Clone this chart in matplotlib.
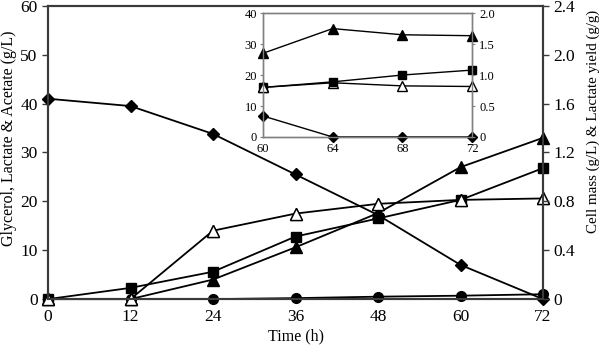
import matplotlib
matplotlib.use("Agg")
import matplotlib.pyplot as plt

plt.rcParams['font.family'] = ['Liberation Serif', 'DejaVu Serif']

time = [0, 12, 24, 36, 48, 60, 72]
glycerol = [41, 39.5, 33.8, 25.5, 17.2, 7.0, 0.0]
lactate = [0, 0, 4.0, 10.6, 17.6, 27.0, 33.0]
acetate = [0, 2.3, 5.6, 12.8, 16.5, 20.3, 26.8]
yield_open = [0, 0, 14.0, 17.5, 19.5, 20.3, 20.6]
cellmass = [0, 0, 0, 0.2, 0.5, 0.7, 1.0]

in_time = [60, 64, 68, 72]
in_tri = [27.0, 35.0, 33.0, 32.7]
in_sq = [16.0, 17.8, 20.0, 21.6]
in_open = [16.0, 17.5, 16.5, 16.3]
in_dia = [6.8, 0.0, 0.0, 0.0]

main_xticks = [0, 12, 24, 36, 48, 60, 72]
left_ticks = [0, 10, 20, 30, 40, 50, 60]
right_ticks = [0, 0.4, 0.8, 1.2, 1.6, 2.0, 2.4]
right_labels = ['0', '0.4', '0.8', '1.2', '1.6', '2.0', '2.4']
in_left_ticks = [0, 10, 20, 30, 40]
in_right_ticks = [0, 0.5, 1.0, 1.5, 2.0]
in_right_labels = ['0', '0.5', '1.0', '1.5', '2.0']

spine_col = '#3a3a3a'

fig = plt.figure(figsize=(6, 3.45), dpi=100)
ax = fig.add_axes([0.08, 0.133, 0.825, 0.85])

lw = 1.3
ms = 7
ax.plot(time, glycerol, 'k-', marker='D', ms=6, lw=lw, zorder=3)
ax.plot(time, yield_open, 'k-', marker='^', ms=ms + 1, mfc='white', mec='black', lw=lw, zorder=3)
ax.plot(time, lactate, 'k-', marker='^', ms=ms + 1, lw=lw, zorder=4)
ax.plot(time, acetate, 'k-', marker='s', ms=ms, lw=lw, zorder=4)
ax.plot(time, cellmass, 'k-', marker='o', ms=ms, lw=lw, zorder=4)
ax.plot(time, yield_open, ls='none', marker='^', ms=ms + 1, mfc='white', mec='black', zorder=5)

ax.set_xlim(0, 72)
ax.set_ylim(0, 60)
ax.set_xticks(main_xticks)
ax.set_yticks(left_ticks)
ax.tick_params(labelsize=12.5, direction='out', length=4, width=1, color=spine_col)
ax.tick_params(axis='x', length=0, pad=7)
ax.set_xlabel('Time (h)', fontsize=11.5)
ax.xaxis.set_label_coords(0.5, -0.099)
ax.set_ylabel('Glycerol, Lactate & Acetate (g/L)', fontsize=11.5)
ax.yaxis.set_label_coords(-0.063, 0.55)
for s in ax.spines.values():
    s.set_linewidth(1.5)
    s.set_color(spine_col)
for l in ax.get_lines():
    l.set_clip_on(False)

ax2 = ax.twinx()
ax2.set_ylim(0, 2.4)
ax2.set_yticks(right_ticks)
ax2.set_yticklabels(right_labels)
ax2.tick_params(labelsize=12.5, direction='out', length=4, width=1, color=spine_col)
ax2.set_ylabel('Cell mass (g/L) & Lactate yield (g/g)', fontsize=10.8, rotation=90)
ax2.yaxis.set_label_coords(1.087, 0.607)
for s in ax2.spines.values():
    s.set_linewidth(1.5)
    s.set_color(spine_col)

ins = fig.add_axes([0.438, 0.603, 0.349, 0.359])
ims = 6
ins.plot(in_time, in_dia, 'k-', marker='D', ms=5, lw=1, clip_on=False, zorder=3)
ins.plot(in_time, in_open, 'k-', marker='^', ms=ims + 1, mfc='white', mec='black', lw=1, clip_on=False, zorder=3)
ins.plot(in_time, in_sq, 'k-', marker='s', ms=ims, lw=1, clip_on=False, zorder=4)
ins.plot(in_time, in_tri, 'k-', marker='^', ms=ims + 1, lw=1, clip_on=False, zorder=4)
ins.plot(in_time[:1], in_open[:1], ls='none', marker='^', ms=ims + 1, mfc='white', mec='black', clip_on=False, zorder=5)
ins.set_xlim(60, 72)
ins.set_ylim(0, 40)
ins.set_xticks(in_time)
ins.set_yticks(in_left_ticks)
ins.tick_params(labelsize=9, direction='out', length=2, color='gray', pad=2)
ins.tick_params(axis='x', length=0, pad=4)
for s in ins.spines.values():
    s.set_color('gray')
    s.set_linewidth(1)
ins2 = ins.twinx()
ins2.set_ylim(0, 2.0)
ins2.set_yticks(in_right_ticks)
ins2.set_yticklabels(in_right_labels)
ins2.tick_params(labelsize=9, direction='out', length=2, color='gray', pad=3)
for s in ins2.spines.values():
    s.set_color('gray')
    s.set_linewidth(1)

fig.savefig('out.png', dpi=100)
